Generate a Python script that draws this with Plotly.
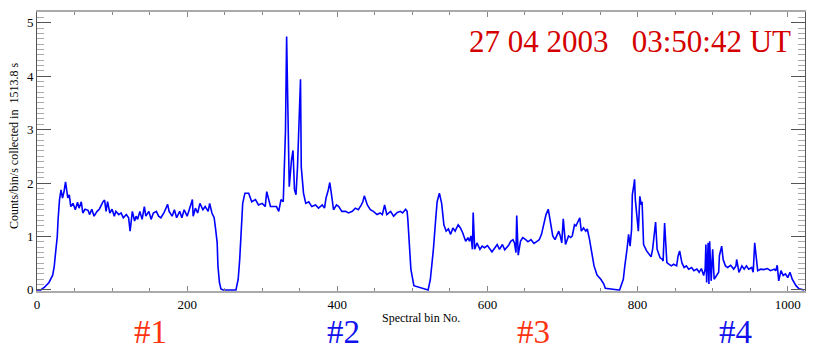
import plotly.graph_objects as go

# Spectral bin numbers and counts
bins = [0, 5, 10, 16, 21, 23, 25, 27, 28, 30, 32, 34, 36, 38, 41, 43, 45, 48, 51, 54, 56, 59, 61, 64, 68, 70,
        73, 76, 80, 83, 88, 90, 92, 94, 97, 100, 103, 105, 109, 112, 115, 119, 122, 124, 127, 130, 132, 134,
        137, 140, 143, 145, 149, 152, 155, 159, 162, 165, 169, 172, 174, 176, 180, 183, 186, 190, 193, 196,
        200, 203, 207, 208, 211, 214, 217, 221, 224, 228, 230, 233, 236, 238, 240, 241, 243, 245, 248, 265,
        268, 270, 272, 274, 276,
        277, 282, 286, 291, 295, 300, 304, 306, 311, 315, 319, 322, 325, 328, 329, 331, 332.5, 334, 336, 339,
        341, 343, 345, 347, 349, 351, 352, 355, 358, 362, 366, 371, 375, 380, 383, 385, 388, 390, 392, 395,
        399, 402, 406, 411, 415, 420, 424, 428, 432, 434, 436, 440, 444, 448, 453, 457, 460, 463, 466, 471,
        475, 480, 484, 487, 491, 493, 494, 496, 498, 502,
        519, 521, 524, 526, 528, 531, 533, 536, 539, 542, 545, 548, 551, 554, 557, 561, 564, 567, 571, 574,
        576, 578, 580, 581, 583, 586, 590, 593, 596, 600, 603, 606, 610, 613, 616, 620, 623, 628, 631, 634,
        636, 638, 639, 641, 644, 647, 651, 654, 658, 662, 666, 669, 672, 675, 678, 681, 684, 687, 690, 693,
        695, 697, 699, 701, 704, 708, 711, 713, 716, 718, 721, 723, 725, 728, 731, 733, 736, 739, 742, 746,
        751, 755, 757, 775,
        776, 778, 781, 783, 784, 786, 788, 790, 792, 793, 795, 796, 797, 800, 801, 803, 805, 806, 808, 812,
        816, 818, 820, 822, 824, 826, 830, 833, 834, 836, 839, 842, 845, 848, 852, 854, 856, 859, 862, 865,
        868, 872, 875, 879, 882, 885, 888, 890, 891, 892, 894, 895, 896, 898, 900, 902, 905, 908, 909, 912,
        914, 917, 920, 924, 928, 931, 932, 935, 939, 942, 945, 948, 952, 954, 956, 960, 964, 968, 973, 977,
        982, 984, 986, 988, 991, 994, 997, 1000, 1003, 1006, 1011, 1015, 1022]

counts = [0.0, 0.0, 0.05, 0.14, 0.28, 0.45, 0.73, 1.0, 1.3, 1.69, 1.87, 1.72, 1.84, 2.02, 1.72, 1.78, 1.56, 1.62,
          1.5, 1.64, 1.53, 1.65, 1.44, 1.51, 1.49, 1.41, 1.51, 1.38, 1.47, 1.51, 1.65, 1.68, 1.47, 1.65, 1.44,
          1.51, 1.38, 1.47, 1.41, 1.44, 1.35, 1.41, 1.35, 1.10, 1.47, 1.29, 1.38, 1.32, 1.47, 1.32, 1.56, 1.38,
          1.47, 1.32, 1.44, 1.47, 1.38, 1.35, 1.44, 1.53, 1.60, 1.47, 1.38, 1.50, 1.35, 1.47, 1.35, 1.50, 1.38,
          1.51, 1.69, 1.38, 1.53, 1.44, 1.62, 1.50, 1.56, 1.47, 1.62, 1.44, 1.35, 1.13, 0.88, 0.45, 0.14, 0.02,
          0.0, 0.0, 0.2, 0.57, 1.0, 1.62, 1.75, 1.81,
          1.81, 1.65, 1.69, 1.59, 1.62, 1.56, 1.84, 1.56, 1.56, 1.56, 1.47, 1.69, 1.65, 1.99, 2.98, 4.74, 3.17,
          1.93, 2.43, 2.61, 1.87, 1.78, 2.30, 3.17, 3.94, 2.30, 1.81, 1.62, 1.65, 1.56, 1.59, 1.53, 1.59, 1.53,
          1.72, 1.87, 2.01, 1.81, 1.50, 1.59, 1.56, 1.47, 1.47, 1.44, 1.47, 1.53, 1.50, 1.59, 1.65, 1.76, 1.59,
          1.50, 1.47, 1.41, 1.44, 1.41, 1.59, 1.41, 1.47, 1.38, 1.45, 1.47, 1.44, 1.51, 1.47, 1.31, 0.82, 0.39,
          0.08, 0.0,
          0.0, 0.2, 0.45, 0.76, 1.31, 1.65, 1.81, 1.62, 1.22, 1.10, 1.14, 1.04, 1.16, 1.10, 1.22, 1.16, 1.07,
          0.91, 0.98, 0.91, 1.01, 0.76, 1.45, 0.76, 0.88, 0.76, 0.82, 0.79, 0.83, 0.76, 0.71, 0.79, 0.85, 0.76,
          0.85, 0.75, 0.83, 0.91, 0.94, 0.88, 0.70, 1.39, 0.65, 0.91, 0.98, 0.94, 0.90, 0.94, 0.87, 0.91, 0.94,
          1.04, 1.25, 1.41, 1.51, 1.25, 1.01, 0.94, 1.04, 1.10, 1.01, 0.88, 1.33, 0.85, 1.01, 0.98, 1.01, 1.22,
          1.20, 1.28, 1.35, 1.10, 1.16, 1.10, 1.14, 0.94, 0.70, 0.45, 0.28, 0.20, 0.11, 0.03, 0.0, 0.0,
          0.08, 0.2, 0.45, 0.60, 0.77, 1.04, 0.82, 1.13, 1.78, 1.96, 2.07, 1.69, 1.19, 1.10, 1.75, 1.59, 1.65,
          0.85, 0.73, 0.67, 0.62, 0.76, 1.07, 1.27, 0.76, 0.60, 0.57, 0.54, 1.25, 0.51, 0.48, 0.45, 0.48, 0.45,
          0.64, 0.73, 0.51, 0.42, 0.45, 0.39, 0.42, 0.36, 0.39, 0.33, 0.40, 0.27, 0.39, 0.85, 0.14, 0.88, 0.11,
          0.91, 0.17, 0.76, 0.20, 0.27, 0.33, 0.64, 0.82, 0.57, 0.45, 0.42, 0.46, 0.39, 0.45, 0.57, 0.33, 0.45,
          0.39, 0.45, 0.39, 0.42, 0.33, 0.88, 0.36, 0.39, 0.38, 0.40, 0.36, 0.39, 0.36, 0.46, 0.17, 0.36, 0.27,
          0.30, 0.23, 0.33, 0.20, 0.08, 0.02, 0.0, 0.0]

x_ticks = [0, 200, 400, 600, 800, 1000]
y_ticks = [0, 1, 2, 3, 4, 5]

title_text = "27 04 2003\u00a0\u00a0\u00a003:50:42 UT"
x_label = "Spectral bin No."
y_label = "Counts/bin/s collected in\u00a0\u00a01513.8 s"
seg_labels = ["#1", "#2", "#3", "#4"]
seg_pos = [151, 408, 661, 931]
seg_colors = ["#ff3311", "#1111ee", "#ff3311", "#1111ee"]

SERIF = "Liberation Serif, Times New Roman, serif"

fig = go.Figure()
fig.add_trace(go.Scatter(x=bins, y=counts, mode="lines",
                         line=dict(color="#0000ff", width=1.6), showlegend=False))

fig.update_layout(
    width=817, height=352,
    margin=dict(l=37, r=12, t=10, b=61),
    paper_bgcolor="white", plot_bgcolor="white",
    font=dict(family=SERIF, size=13, color="black"),
    xaxis=dict(range=[0, 1023], tickvals=x_ticks, ticks="inside", ticklen=5, tickcolor="#888",
               showgrid=False, zeroline=False, showline=True, linecolor="#aaaaaa", linewidth=2,
               mirror="allticks",
               minor=dict(dtick=50, tick0=0, ticks="inside", ticklen=3, tickcolor="#888"),
               tickfont=dict(family=SERIF, size=13)),
    yaxis=dict(range=[-0.02, 5.2], tickvals=y_ticks, ticks="inside", ticklen=14, tickcolor="#555",
               showgrid=False, zeroline=False, showline=True, linecolor="#555", linewidth=1,
               mirror="allticks",
               minor=dict(dtick=0.1, tick0=0, ticks="inside", ticklen=7, tickcolor="#aaa"),
               tickfont=dict(family=SERIF, size=13)),
)

fig.add_annotation(x=0.985, y=0.895, xref="paper", yref="paper", xanchor="right", yanchor="middle",
                   text=title_text, showarrow=False, font=dict(family=SERIF, size=31, color="#d40000"))
fig.add_annotation(x=0.5, y=-0.098, xref="paper", yref="paper", xanchor="center", yanchor="middle",
                   text=x_label, showarrow=False, font=dict(family=SERIF, size=12, color="black"))
fig.add_annotation(x=-0.03, y=0.52, xref="paper", yref="paper", xanchor="center", yanchor="middle",
                   text=y_label, textangle=-90, showarrow=False, font=dict(family=SERIF, size=12, color="black"))
for lab, pos, col in zip(seg_labels, seg_pos, seg_colors):
    fig.add_annotation(x=pos, y=-0.146, xref="x", yref="paper", xanchor="center", yanchor="middle",
                       text=lab, showarrow=False, font=dict(family=SERIF, size=33, color=col))

fig.write_html("out.html")
